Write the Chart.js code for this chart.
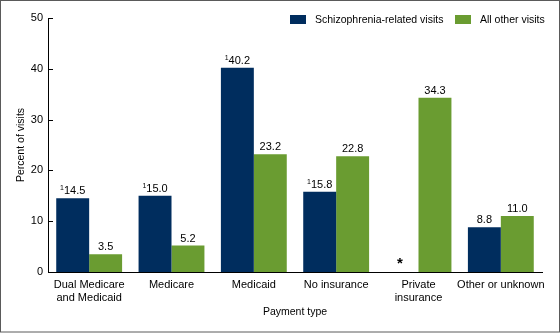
<!DOCTYPE html>
<html>
<head>
<meta charset="utf-8">
<script src="https://cdn.jsdelivr.net/npm/chart.js@4/dist/chart.umd.min.js"></script>
<style>
  html, body { margin: 0; padding: 0; background: #fff; }
  #wrap { width: 560px; height: 333px; position: relative; }
</style>
</head>
<body>
<div id="wrap"><canvas id="c" width="560" height="333"></canvas></div>
<script>
// Payment type categories (multi-line labels as arrays)
const categories = [
  ['Dual Medicare', 'and Medicaid'],
  'Medicare',
  'Medicaid',
  'No insurance',
  ['Private', 'insurance'],
  'Other or unknown'
];
// Percent of visits by payment type
const schizophreniaVisits = [14.5, 15.0, 40.2, 15.8, null, 8.8];
const otherVisits = [3.5, 5.2, 23.2, 22.8, 34.3, 11.0];
// Footnote markers shown before the value labels
const schizophreniaNotes = ['1', '1', '1', '1', '', ''];
// Estimates that do not meet reliability standards (shown as *)
const schizophreniaSuppressed = [false, false, false, false, true, false];
const yTicks = [0, 10, 20, 30, 40, 50];

const FONT = '"Liberation Sans", Arial, Helvetica, sans-serif';
const NAVY = '#002D5E';
const GREEN = '#6A9C31';

const overlay = {
  id: 'overlay',
  beforeDraw(chart) {
    const ctx = chart.ctx;
    ctx.save();
    ctx.fillStyle = '#fff';
    ctx.fillRect(0, 0, chart.width, chart.height);
    ctx.restore();
  },
  afterDatasetsDraw(chart) {
    const ctx = chart.ctx;
    const yScale = chart.scales.y;
    const xScale = chart.scales.x;
    ctx.save();

    // inward tick marks on the value axis
    ctx.strokeStyle = '#000';
    ctx.lineWidth = 1;
    yTicks.forEach(v => {
      if (v === 0) return;
      const py = Math.round(yScale.getPixelForValue(v)) + 0.5;
      ctx.beginPath();
      ctx.moveTo(chart.chartArea.left, py);
      ctx.lineTo(chart.chartArea.left + 5, py);
      ctx.stroke();
    });

    // value labels above each bar
    ctx.fillStyle = '#000';
    ctx.textBaseline = 'alphabetic';
    chart.data.datasets.forEach((ds, di) => {
      const meta = chart.getDatasetMeta(di);
      meta.data.forEach((bar, i) => {
        const v = ds.data[i];
        const note = (ds.notes && ds.notes[i]) || '';
        if (v === null || v === undefined) {
          if (ds.suppressed && ds.suppressed[i]) {
            const w = bar.width || meta.data[0].width;
            const cx = xScale.getPixelForValue(i) - w / 2;
            ctx.font = 'bold 15px ' + FONT;
            ctx.textAlign = 'center';
            ctx.fillText('*', cx - 2, yScale.getPixelForValue(0) - 4);
          }
          return;
        }
        const txt = v.toFixed(1);
        const y = yScale.getPixelForValue(v) - 4;
        ctx.font = '11px ' + FONT;
        const tw = ctx.measureText(txt).width;
        ctx.font = '7px ' + FONT;
        const nw = note ? ctx.measureText(note).width : 0;
        const left = bar.x - (tw + nw) / 2;
        if (note) {
          ctx.textAlign = 'left';
          ctx.fillText(note, left, y - 4);
        }
        ctx.font = '11px ' + FONT;
        ctx.textAlign = 'left';
        ctx.fillText(txt, left + nw, y);
      });
    });

    // legend
    ctx.font = '10.5px ' + FONT;
    ctx.textAlign = 'left';
    ctx.textBaseline = 'middle';
    const legendItems = [
      { x: 290, textX: 315 },
      { x: 455, textX: 480 }
    ];
    chart.data.datasets.forEach((ds, di) => {
      const it = legendItems[di];
      ctx.fillStyle = ds.backgroundColor;
      ctx.fillRect(it.x, 15, 16, 9);
      ctx.fillStyle = '#000';
      ctx.fillText(ds.label, it.textX, 20.5);
    });

    // frame
    ctx.strokeStyle = '#5a5a5a';
    ctx.lineWidth = 1;
    ctx.strokeRect(0.5, 0.5, chart.width - 1, chart.height - 1.5);
    ctx.restore();
  }
};

new Chart(document.getElementById('c'), {
  type: 'bar',
  data: {
    labels: categories,
    datasets: [
      {
        label: 'Schizophrenia-related visits',
        data: schizophreniaVisits,
        notes: schizophreniaNotes,
        suppressed: schizophreniaSuppressed,
        backgroundColor: NAVY,
        categoryPercentage: 0.8,
        barPercentage: 1.0
      },
      {
        label: 'All other visits',
        data: otherVisits,
        backgroundColor: GREEN,
        categoryPercentage: 0.8,
        barPercentage: 1.0
      }
    ]
  },
  options: {
    responsive: false,
    animation: false,
    events: [],
    layout: { padding: { top: 18, right: 18, bottom: 0, left: 0 } },
    plugins: {
      legend: { display: false },
      tooltip: { enabled: false },
      title: { display: false }
    },
    scales: {
      x: {
        grid: { display: false, drawTicks: false },
        border: { display: true, color: '#000', width: 1 },
        ticks: {
          color: '#000',
          font: { family: FONT, size: 11 },
          padding: 6,
          maxRotation: 0,
          autoSkip: false
        },
        title: {
          display: true,
          text: 'Payment type',
          color: '#000',
          font: { family: FONT, size: 10.5 },
          padding: { top: 0, bottom: 15 }
        },
        afterFit(scale) { scale.height = 61; }
      },
      y: {
        min: 0,
        max: 50,
        grid: { display: false, drawTicks: false },
        border: { display: true, color: '#000', width: 1 },
        afterBuildTicks(scale) { scale.ticks = yTicks.map(v => ({ value: v })); },
        ticks: {
          color: '#000',
          font: { family: FONT, size: 11 },
          padding: 5
        },
        title: {
          display: true,
          text: 'Percent of visits',
          color: '#000',
          font: { family: FONT, size: 10.5 },
          padding: { top: 15, bottom: 0 }
        },
        afterFit(scale) { scale.width = 48; }
      }
    }
  },
  plugins: [overlay]
});
</script>
</body>
</html>
